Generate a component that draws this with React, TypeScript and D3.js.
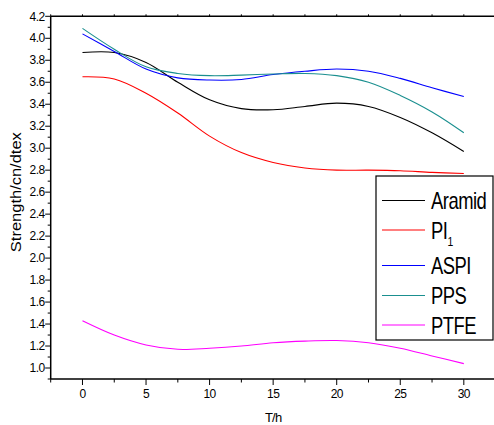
import React from "react";
import * as d3 from "d3";

const hours = [0, 2.5, 5, 7.5, 10, 12.5, 15, 17.5, 20, 22.5, 25, 27.5, 30];
const aramid = [3.87, 3.87, 3.78, 3.6, 3.44, 3.36, 3.35, 3.38, 3.41, 3.38, 3.28, 3.14, 2.97];
const pi1 = [3.65, 3.63, 3.5, 3.32, 3.11, 2.96, 2.87, 2.82, 2.8, 2.8, 2.795, 2.78, 2.77];
const aspi = [4.04, 3.88, 3.72, 3.64, 3.62, 3.625, 3.67, 3.7, 3.72, 3.7, 3.635, 3.55, 3.47];
const pps = [4.09, 3.9, 3.74, 3.68, 3.66, 3.665, 3.675, 3.68, 3.66, 3.6, 3.48, 3.33, 3.14];
const ptfe = [1.43, 1.3, 1.21, 1.17, 1.18, 1.2, 1.23, 1.245, 1.25, 1.23, 1.18, 1.11, 1.04];

const seriesNames = ["Aramid", "PI", "ASPI", "PPS", "PTFE"];
const seriesColors = ["#000000", "#ff0000", "#0000ff", "#1a8f8f", "#ff00ff"];
const seriesValues = [aramid, pi1, aspi, pps, ptfe];

const xTicks = [0, 5, 10, 15, 20, 25, 30];
const yTicks = [1.0, 1.2, 1.4, 1.6, 1.8, 2.0, 2.2, 2.4, 2.6, 2.8, 3.0, 3.2, 3.4, 3.6, 3.8, 4.0, 4.2];

const W = 494;
const H = 425;
const FONT = "'Liberation Sans', Arial, sans-serif";

export default function App() {
  const x = d3.scaleLinear().domain([-2.5, 32.5]).range([50.7, 495.6]);
  const y = d3.scaleLinear().domain([0.9, 4.2]).range([379, 16.3]);
  const line = d3
    .line<number>()
    .x((_, i) => x(hours[i]))
    .y((d) => y(d))
    .curve(d3.curveCatmullRom.alpha(0.5));

  const minorX = d3.range(-2.5, 32.6, 2.5);
  const minorY = d3.range(0.9, 4.21, 0.1);

  const legendX = 376;
  const legendY = 176;
  const legendRows = [200.5, 230, 265.5, 295.5, 325];

  return (
    <svg
      width={W}
      height={H}
      style={{ position: "absolute", left: 0, top: 0, background: "#fff" }}
      fontFamily={FONT}
    >
      <rect x={0} y={0} width={W} height={H} fill="#fff" />
      {/* frame */}
      <line x1={x(-2.5)} x2={x(32.5)} y1={y(4.2)} y2={y(4.2)} stroke="#000" strokeWidth={1.5} />
      <line x1={x(-2.5)} x2={x(32.5)} y1={y(0.9)} y2={y(0.9)} stroke="#000" strokeWidth={1.5} />
      <line x1={x(-2.5)} x2={x(-2.5)} y1={y(4.2)} y2={y(0.9)} stroke="#000" strokeWidth={1.5} />
      <line x1={x(32.5)} x2={x(32.5)} y1={y(4.2)} y2={y(0.9)} stroke="#000" strokeWidth={1.5} />

      {/* x ticks */}
      {minorX.map((v) => {
        const major = Math.abs(v % 5) < 1e-6;
        return (
          <g key={"xt" + v}>
            <line x1={x(v)} x2={x(v)} y1={y(0.9)} y2={y(0.9) + (major ? 6 : 3.5)} stroke="#000" strokeWidth={1} />
            <line x1={x(v)} x2={x(v)} y1={y(4.2)} y2={y(4.2) - 2} stroke="#000" strokeWidth={1} />
          </g>
        );
      })}
      {xTicks.map((v) => (
        <text key={"xl" + v} x={x(v)} y={398} textAnchor="middle" fontSize={12} letterSpacing={-0.6} fill="#000">
          {v}
        </text>
      ))}
      <text x={x(15)} y={422} textAnchor="middle" fontSize={13} letterSpacing={-0.8} fill="#000">
        T/h
      </text>

      {/* y ticks */}
      {minorY.map((v, i) => {
        const major = i % 2 === 1;
        return (
          <line key={"yt" + i} x1={x(-2.5) - (major ? 5.5 : 3)} x2={x(-2.5)} y1={y(v)} y2={y(v)} stroke="#000" strokeWidth={1} />
        );
      })}
      {yTicks.map((v) => (
        <text key={"yl" + v} x={44.5} y={y(v) + 4.2} textAnchor="end" fontSize={12} letterSpacing={-0.6} fill="#000">
          {v.toFixed(1)}
        </text>
      ))}
      <text
        transform={`translate(21,${y(2.6)}) rotate(-90)`}
        textAnchor="middle"
        fontSize={15}
        textLength={120}
        lengthAdjust="spacingAndGlyphs"
        fill="#000"
      >
        Strength/cn/dtex
      </text>

      {/* series */}
      {seriesValues.map((vals, i) => (
        <path key={seriesNames[i]} d={line(vals) || ""} fill="none" stroke={seriesColors[i]} strokeWidth={1.1} />
      ))}

      {/* legend */}
      <rect x={legendX} y={legendY} width={117} height={164} fill="#fff" stroke="#000" strokeWidth={1.2} />
      {seriesNames.map((name, i) => (
        <g key={"lg" + name}>
          <line x1={382} x2={425} y1={legendRows[i]} y2={legendRows[i]} stroke={seriesColors[i]} strokeWidth={1.2} />
          <g transform={`translate(431,${legendRows[i] + 8.5}) scale(0.8,1)`}>
            <text x={0} y={0} fontSize={23} letterSpacing={-0.6} fill="#000">
              {name}
              {name === "PI" ? (
                <tspan fontSize={13} dy={7} letterSpacing={0}>
                  1
                </tspan>
              ) : null}
            </text>
          </g>
        </g>
      ))}
    </svg>
  );
}
